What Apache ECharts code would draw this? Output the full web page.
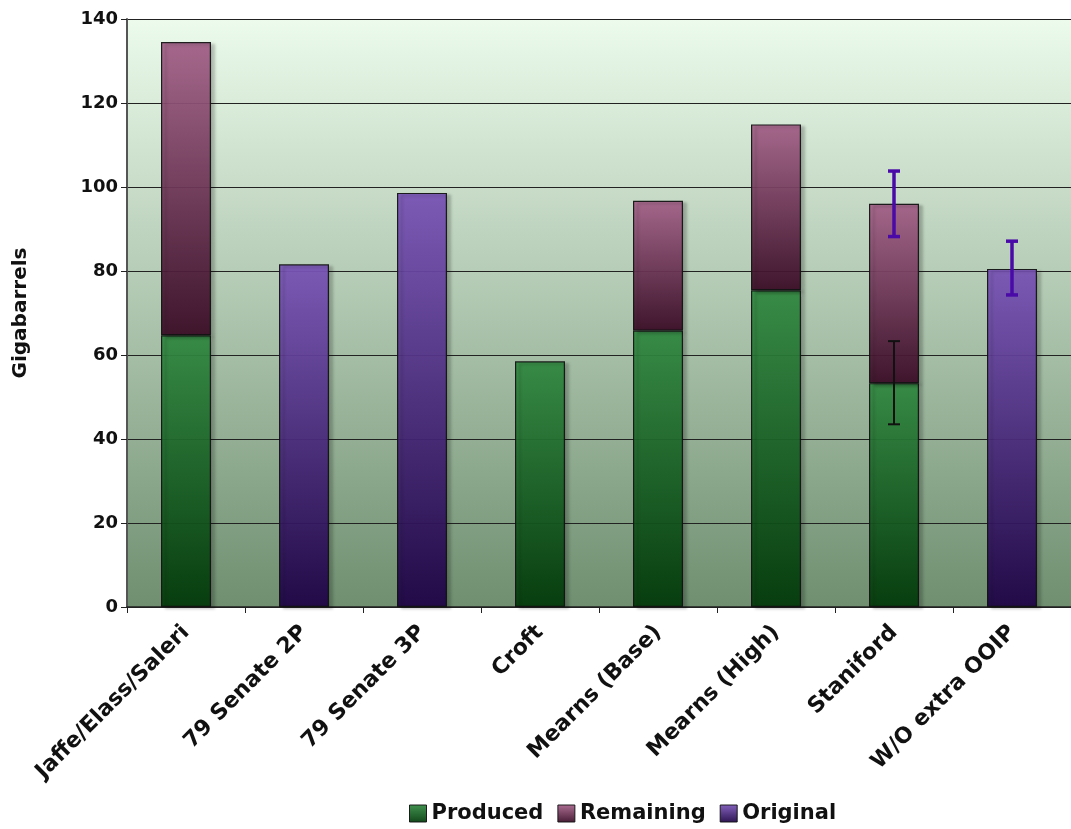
<!DOCTYPE html>
<html>
<head>
<meta charset="utf-8">
<script src="https://cdn.jsdelivr.net/npm/echarts@6/dist/echarts.min.js"></script>
<style>
html,body{margin:0;padding:0;background:#fff;}
#chart{width:1071px;height:829px;}
</style>
</head>
<body>
<div id="chart"></div>
<script>
var categories = ['Jaffe/Elass/Saleri','79 Senate 2P','79 Senate 3P','Croft','Mearns (Base)','Mearns (High)','Staniford','W/O extra OOIP'];
var produced  = [64.7, null, null, 58.5, 65.8, 75.4, 53.3, null];
var remaining = [69.8, null, null, null, 30.9, 39.5, 42.7, null];
var original  = [null, 81.6, 98.6, null, null, null, null, 80.5];
// error bars: [categoryIndex, low, high]
var errProduced = [[6, 43.5, 63.3]];
var errTotal    = [[6, 88.2, 103.8], [7, 74.3, 87.1]];
var yTicks = [0, 20, 40, 60, 80, 100, 120, 140];

var font = 'DejaVu Sans';
function grad(top, bottom){
  return new echarts.graphic.LinearGradient(0,0,0,1,[{offset:0,color:top},{offset:1,color:bottom}]);
}
var barStyle = function(top,bottom){
  return {color: grad(top,bottom), borderColor:'#111', borderWidth:1.2, opacity:0.93,
    shadowColor:'rgba(0,0,0,0.28)', shadowBlur:3, shadowOffsetX:4, shadowOffsetY:2};
};
function errSeries(name, data, color, width){
  return {
    type:'custom', name:name, data:data, z:10, silent:true,
    renderItem:function(params, api){
      var x = api.value(0), lo = api.value(1), hi = api.value(2);
      var p1 = api.coord([x, lo]), p2 = api.coord([x, hi]);
      var cx = p1[0], hw = 6;
      var st = {stroke:color, lineWidth:width};
      return {type:'group', children:[
        {type:'line', shape:{x1:cx,y1:p1[1],x2:cx,y2:p2[1]}, style:st},
        {type:'line', shape:{x1:cx-hw,y1:p1[1],x2:cx+hw,y2:p1[1]}, style:st},
        {type:'line', shape:{x1:cx-hw,y1:p2[1],x2:cx+hw,y2:p2[1]}, style:st}
      ]};
    }
  };
}
var chart = echarts.init(document.getElementById('chart'));
chart.setOption({
  animation:false,
  backgroundColor:'#ffffff',
  grid:{left:127, right:0, top:19, bottom:222, show:true, borderWidth:0,
    backgroundColor: grad('#ecfbec','#6f8f70')},
  legend:{
    bottom:0, left:404, itemWidth:17, itemHeight:17, itemGap:14, icon:'rect',
    data:['Produced','Remaining','Original'],
    textStyle:{fontFamily:font, fontWeight:'bold', fontSize:21, color:'#111'},
    itemStyle:{borderColor:'#111', borderWidth:1, shadowBlur:0, shadowOffsetX:0, shadowOffsetY:0}
  },
  xAxis:{
    type:'category', data:categories,
    axisLine:{lineStyle:{color:'#222', width:1.5}},
    axisTick:{show:true, alignWithLabel:false, length:6, lineStyle:{color:'#222'}},
    axisLabel:{rotate:45, interval:0, margin:22, fontFamily:font, fontWeight:'bold', fontSize:22, color:'#111'}
  },
  yAxis:{
    type:'value', min:0, max:140, interval:20,
    name:'Gigabarrels', nameLocation:'middle', nameGap:96, nameRotate:90,
    nameTextStyle:{fontFamily:font, fontWeight:'bold', fontSize:20, color:'#111'},
    axisLine:{show:true, lineStyle:{color:'#555', width:2}},
    axisTick:{show:true, length:6, lineStyle:{color:'#222'}},
    axisLabel:{fontFamily:font, fontWeight:'bold', fontSize:18, color:'#111', margin:9,
      formatter:function(v){return yTicks.indexOf(v)>=0 ? String(v) : '';}},
    splitLine:{show:true, lineStyle:{color:'#222', width:1.2}}
  },
  series:[
    {name:'Produced', type:'bar', stack:'s', barWidth:50, data:produced, itemStyle:barStyle('#328a42','#023a0a')},
    {name:'Remaining', type:'bar', stack:'s', barWidth:50, data:remaining, itemStyle:barStyle('#a5628a','#3a0c26')},
    {name:'Original', type:'bar', stack:'s', barWidth:50, data:original, itemStyle:barStyle('#7a55b8','#1e0346')},
    errSeries('errP', errProduced, '#111', 2),
    errSeries('errT', errTotal, '#4a0aa8', 3.5)
  ]
});
</script>
</body>
</html>
